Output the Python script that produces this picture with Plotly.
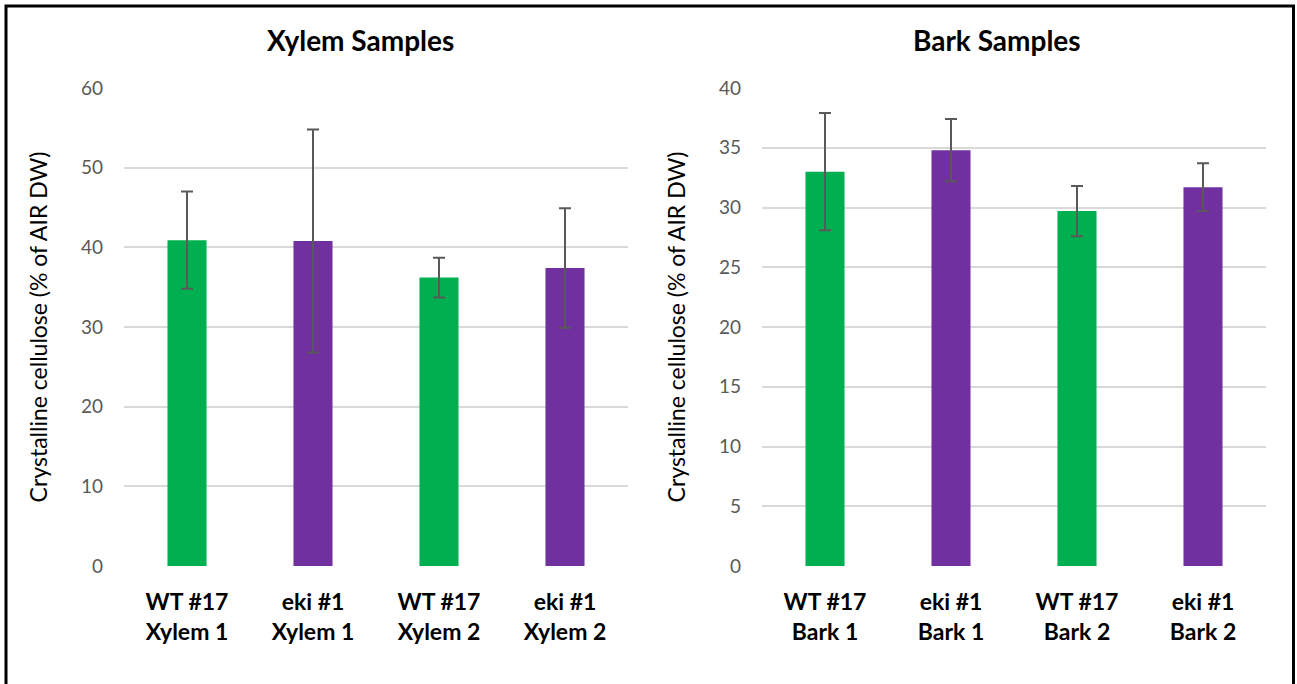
import plotly.graph_objects as go

W, H = 1297, 684

xylem_labels = ["WT #17<br>Xylem 1", "eki #1<br>Xylem 1", "WT #17<br>Xylem 2", "eki #1<br>Xylem 2"]
xylem_values = [40.9, 40.8, 36.2, 37.4]
xylem_err = [6.1, 14.0, 2.5, 7.5]

bark_labels = ["WT #17<br>Bark 1", "eki #1<br>Bark 1", "WT #17<br>Bark 2", "eki #1<br>Bark 2"]
bark_values = [33.0, 34.8, 29.7, 31.7]
bark_err = [4.9, 2.6, 2.1, 2.0]

GREEN = "#00B050"
PURPLE = "#7030A0"
bar_colors = [GREEN, PURPLE, GREEN, PURPLE]

FONT = "Lato"
err_style = dict(type="data", color="#595959", thickness=2, width=6, visible=True)

fig = go.Figure()
fig.add_trace(go.Bar(
    x=xylem_labels, y=xylem_values, width=0.31,
    marker=dict(color=bar_colors, line=dict(width=0)),
    error_y=dict(array=xylem_err, **err_style),
    xaxis="x", yaxis="y", showlegend=False,
))
fig.add_trace(go.Bar(
    x=bark_labels, y=bark_values, width=0.31,
    marker=dict(color=bar_colors, line=dict(width=0)),
    error_y=dict(array=bark_err, **err_style),
    xaxis="x2", yaxis="y2", showlegend=False,
))

ydom = [1 - 566 / H, 1 - 88 / H]
xfont = dict(family=FONT, size=23, color="black", weight="bold")
yfont = dict(family=FONT, size=19, color="#595959")
ytitle = dict(text="Crystalline cellulose (% of AIR DW)",
              font=dict(family=FONT, size=23, color="black"), standoff=26)
common_x = dict(type="category", showgrid=False, zeroline=False, showline=False,
                ticks="", tickfont=xfont, ticklabelstandoff=20, fixedrange=True,
                automargin=False)
common_y = dict(showgrid=True, gridcolor="#D9D9D9", gridwidth=2, zeroline=False,
                showline=False, ticks="", tickfont=yfont, ticklabelstandoff=20,
                title=ytitle, fixedrange=True, automargin=False)

fig.update_layout(
    width=W, height=H, autosize=False,
    margin=dict(l=0, r=0, t=0, b=0, pad=0, autoexpand=False),
    paper_bgcolor="white", plot_bgcolor="white",
    font=dict(family=FONT),
    xaxis=dict(domain=[124 / W, 628 / W], anchor="y", **common_x),
    xaxis2=dict(domain=[762 / W, 1266 / W], anchor="y2", **common_x),
    yaxis=dict(domain=ydom, anchor="x", range=[0, 60], dtick=10, **common_y),
    yaxis2=dict(domain=ydom, anchor="x2", range=[0, 40], dtick=5, **common_y),
    bargap=0.69,
    annotations=[
        dict(text="<b>Xylem Samples</b>", x=360 / W, y=1 - 40 / H, xref="paper", yref="paper",
             xanchor="center", yanchor="middle", showarrow=False,
             font=dict(family=FONT, size=28, color="black")),
        dict(text="<b>Bark Samples</b>", x=997 / W, y=1 - 40 / H, xref="paper", yref="paper",
             xanchor="center", yanchor="middle", showarrow=False,
             font=dict(family=FONT, size=28, color="black")),
    ],
    shapes=[
        dict(type="rect", xref="paper", yref="paper",
             x0=6 / W, x1=1293.5 / W, y0=-0.1, y1=1 - 6 / H,
             line=dict(color="black", width=3), fillcolor="rgba(0,0,0,0)"),
    ],
)

fig.write_html("out.html")
